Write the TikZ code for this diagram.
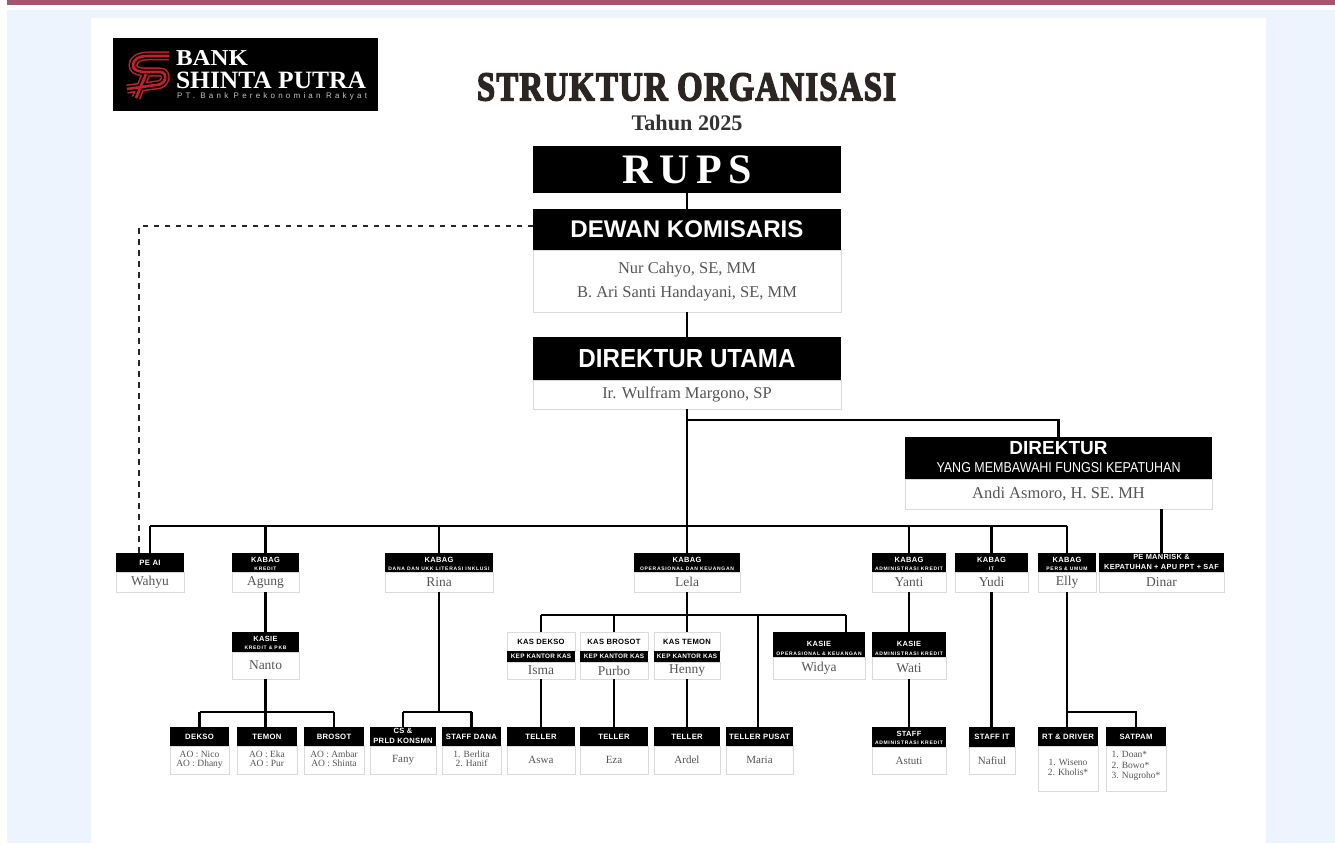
\documentclass[tikz,border=0pt]{standalone}
\usepackage{fontspec}
\usepackage{graphicx}
\setmainfont{Liberation Serif}
\setsansfont{Liberation Sans}
\newfontfamily\hdfont[LetterSpace=4]{Liberation Sans}
\newfontfamily\subfont[LetterSpace=14]{Liberation Sans}
\newfontfamily\logofont[LetterSpace=40]{Liberation Sans}
\newfontfamily\stencilfont[FakeBold=4,LetterSpace=4]{Liberation Serif Bold}
\definecolor{rosebar}{HTML}{A4566F}
\definecolor{pageblue}{HTML}{EDF4FE}
\definecolor{bodytxt}{HTML}{555555}
\definecolor{edgegray}{HTML}{DADADA}
\definecolor{logored}{HTML}{C4202B}
\definecolor{titleink}{HTML}{2B2624}
\tikzset{
  hdbox/.style={fill=black,text=white,inner sep=0pt,outer sep=0pt,align=center,font=\sffamily\bfseries},
  bdbox/.style={fill=white,draw=edgegray,line width=0.9pt,text=bodytxt,inner sep=0pt,outer sep=0pt,align=center,font=\rmfamily},
  plainbox/.style={fill=white,draw=edgegray,line width=0.9pt,text=black,inner sep=0pt,outer sep=0pt,align=center,font=\sffamily\bfseries},
  conn/.style={draw=black,line width=2.8pt},
  thinconn/.style={draw=black,line width=2.2pt},
  dashconn/.style={draw=black!85,line width=2.4pt,dash pattern=on 5.5pt off 5.5pt},
  plaintext/.style={inner sep=0pt,outer sep=0pt,align=center}
}
% name, x1, y1, ymid, x2, y2, header, body
\newcommand\orgbox[8]{%
  \pgfmathsetmacro\bxw{#5-#2}%
  \pgfmathsetmacro\bxc{(#5+#2)/2}%
  \pgfmathsetmacro\hdh{#4-#3}%
  \pgfmathsetmacro\hdc{(#4+#3)/2}%
  \pgfmathsetmacro\bdh{#6-#4}%
  \pgfmathsetmacro\bdc{(#6+#4)/2}%
  \node[bdbox,minimum width=\bxw pt,minimum height=\bdh pt] (#1-b) at (\bxc,\bdc) {#8};%
  \node[hdbox,minimum width=\bxw pt,minimum height=\hdh pt] (#1-h) at (\bxc,\hdc) {#7};%
}
% name, x1, x2, title, person
\newcommand\kasbox[5]{%
  \pgfmathsetmacro\bxw{#3-#2}%
  \pgfmathsetmacro\bxc{(#3+#2)/2}%
  \node[plainbox,minimum width=\bxw pt,minimum height=19pt] (#1-t) at (\bxc,641.5) {\hdfont\fontsize{7.6}{8}\selectfont\bfseries #4};%
  \node[bdbox,minimum width=\bxw pt,minimum height=17pt] (#1-b) at (\bxc,670.5) {\nmL #5};%
  \node[hdbox,minimum width=\bxw pt,minimum height=11pt] (#1-s) at (\bxc,656.5) {\hdfont\fontsize{6.4}{7}\selectfont\bfseries KEP KANTOR KAS};%
}
% size, baseline, column type, lines
\newcommand\stk[4]{{\fontsize{#1}{#2}\selectfont\begin{tabular}{@{}#3@{}}#4\end{tabular}}}
\newcommand\hdA[1]{\hdfont\fontsize{7.7}{8.5}\selectfont\bfseries #1}
\newcommand\hdB[2]{\raisebox{-4pt}[0pt][0pt]{\hdfont\bfseries\stk{7.5}{7.6}{c}{#1\\\subfont\bfseries\fontsize{5}{5}\selectfont #2}}}
\newcommand\hdBtall[2]{\raisebox{-6.5pt}[0pt][0pt]{\hdfont\bfseries\stk{7.5}{8.4}{c}{#1\\\subfont\bfseries\fontsize{5}{5}\selectfont #2}}}
\newcommand\hdTwo[3]{\hdfont\bfseries\stk{#1}{9.6}{c}{#2\\#3}}
\newcommand\nmL{\fontsize{13.5}{15}\selectfont}
\newcommand\nmM{\fontsize{11}{12}\selectfont}
\newcommand\nmTwo[2]{\stk{9.5}{9.6}{c}{#1\\#2}}
\newcommand\nmBig{\fontsize{16.5}{18}\selectfont}
\begin{document}
\begin{tikzpicture}[x=1pt,y=-1pt]
\useasboundingbox (0,0) rectangle (1335,843);
\fill[white] (0,0) rectangle (1335,843);
\fill[rosebar] (7,0) rectangle (1335,5);
\fill[pageblue] (7,10) rectangle (1335,843);
\fill[white] (91,18) rectangle (1266,843);
% logo
\fill[black] (113,38) rectangle (378,111);
\foreach \lw/\lc in {9/logored,6/black,2.6/logored}{
  \draw[line width=\lw pt,draw=\lc] (169,56) -- (148,56) .. controls (138,56) and (133,60) .. (133,65) .. controls (133,70) and (137,71) .. (143,72) -- (160,72) .. controls (168,72) and (167,85) .. (156,85) -- (127,89);
  \draw[line width=\lw pt,draw=\lc] (146,74) -- (136,98);
}
\node[plaintext,anchor=south west,text=white] (logoa) at (176,66) {\resizebox{72pt}{15pt}{\bfseries BANK}};
\node[plaintext,anchor=south west,text=white] (logob) at (176,88.5) {\resizebox{190pt}{16.5pt}{\bfseries SHINTA PUTRA}};
\node[plaintext,anchor=south west,text=black!22] (logoc) at (177,100) {\resizebox{190pt}{!}{\logofont PT. Bank Perekonomian Rakyat}};
% title
\node[plaintext,text=titleink] (title) at (686.5,87) {\resizebox{419pt}{27pt}{\stencilfont STRUKTUR ORGANISASI}};
\node[plaintext,text=black!80] (year) at (687,123) {\resizebox{111pt}{!}{\bfseries Tahun 2025}};
% upper boxes
\node[hdbox,minimum width=308pt,minimum height=47pt,font=\rmfamily\bfseries] (rups) at (687,169.5) {\fontsize{42}{44}\selectfont R\kern.16em U\kern.16em P\kern.16em S};
\orgbox{dewan}{533}{209}{250}{841}{312}{\resizebox{233pt}{!}{DEWAN KOMISARIS}}{\stk{16.5}{24}{c}{Nur Cahyo, SE, MM\\B. Ari Santi Handayani, SE, MM}}
\orgbox{dirut}{533}{337}{380}{841}{409}{\resizebox{217pt}{18pt}{DIREKTUR UTAMA}}{\nmBig Ir. Wulfram Margono, SP}
\orgbox{dirk}{905}{437}{479}{1212}{509}{\raisebox{-6pt}[0pt][0pt]{\stk{19}{18}{c}{DIREKTUR\\\mdseries\resizebox{244pt}{10pt}{YANG MEMBAWAHI FUNGSI KEPATUHAN}}}}{\nmBig Andi Asmoro, H. SE. MH}
% row 1
\orgbox{peai}{116}{553}{572}{184}{592}{\hdA{PE AI}}{\nmL Wahyu}
\orgbox{agung}{232}{553}{572}{299}{592}{\hdB{KABAG}{KREDIT}}{\nmL Agung}
\orgbox{rina}{385}{553}{572}{493}{592}{\hdB{KABAG}{DANA DAN UKK LITERASI INKLUSI}}{\nmL Rina}
\orgbox{lela}{634}{553}{572}{740}{592}{\hdB{KABAG}{OPERASIONAL DAN KEUANGAN}}{\nmL Lela}
\orgbox{yanti}{872}{553}{572}{946}{592}{\hdB{KABAG}{ADMINISTRASI KREDIT}}{\nmL Yanti}
\orgbox{yudi}{955}{553}{572}{1028}{592}{\hdB{KABAG}{IT}}{\nmL Yudi}
\orgbox{elly}{1038}{553}{572}{1096}{592}{\hdB{KABAG}{PERS \& UMUM}}{\nmL Elly}
\orgbox{dinar}{1099}{553}{572}{1224}{592}{\hdTwo{7.4}{PE MANRISK \&}{KEPATUHAN + APU PPT + SAF}}{\nmL Dinar}
% row 2
\orgbox{nanto}{232}{632}{652}{299}{679}{\hdB{KASIE}{KREDIT \& PKB}}{\nmL Nanto}
\kasbox{isma}{507}{575}{KAS DEKSO}{Isma}
\kasbox{purbo}{580}{648}{KAS BROSOT}{Purbo}
\kasbox{henny}{654}{720}{KAS TEMON}{Henny}
\orgbox{widya}{773}{632}{657}{865}{679}{\hdBtall{KASIE}{OPERASIONAL \& KEUANGAN}}{\nmL Widya}
\orgbox{wati}{872}{632}{657}{946}{679}{\hdBtall{KASIE}{ADMINISTRASI KREDIT}}{\nmL Wati}
% row 3
\orgbox{dekso}{170}{727}{746}{229}{774}{\hdA{DEKSO}}{\nmTwo{AO : Nico}{AO : Dhany}}
\orgbox{temon}{237}{727}{746}{297}{774}{\hdA{TEMON}}{\nmTwo{AO : Eka}{AO : Pur}}
\orgbox{brosot}{304}{727}{746}{364}{774}{\hdA{BROSOT}}{\nmTwo{AO : Ambar}{AO : Shinta}}
\orgbox{cs}{370}{727}{746}{436}{774}{\hdTwo{7.6}{CS \&}{PRLD KONSMN}}{\nmM Fany}
\orgbox{staffdana}{442}{727}{746}{501}{774}{\hdA{STAFF DANA}}{\nmTwo{1. Berlita}{2. Hanif}}
\orgbox{aswa}{507}{727}{746}{575}{774}{\hdA{TELLER}}{\nmM Aswa}
\orgbox{eza}{580}{727}{746}{648}{774}{\hdA{TELLER}}{\nmM Eza}
\orgbox{ardel}{654}{727}{746}{720}{774}{\hdA{TELLER}}{\nmM Ardel}
\orgbox{maria}{726}{727}{746}{793}{774}{\hdA{TELLER PUSAT}}{\nmM Maria}
\orgbox{astuti}{872}{727}{747}{946}{774}{\hdB{STAFF}{ADMINISTRASI KREDIT}}{\nmM Astuti}
\orgbox{nafiul}{969}{727}{747}{1015}{774}{\hdA{STAFF IT}}{\nmM Nafiul}
\orgbox{rt}{1038}{727}{746}{1098}{791}{\hdA{RT \& DRIVER}}{\nmTwo{1. Wiseno}{2. Kholis*}}
\orgbox{satpam}{1106}{727}{746}{1166}{791}{\hdA{SATPAM}}{\raisebox{0pt}[0pt][0pt]{\stk{9.5}{10.6}{l}{1. Doan*\\2. Bowo*\\3. Nugroho*}}}
% junctions
\coordinate (jdir) at (687,420);
\coordinate (jbus) at (687,526);
\coordinate (jnanto) at (266,712);
\coordinate (jrina) at (439,712);
\coordinate (jlela) at (687,615);
\coordinate (jwidya) at (846,615);
\coordinate (jpusat) at (758,615);
\coordinate (jelly) at (1067,712);
\coordinate (jdash) at (139,226);
% connectors
\draw[thinconn] (rups.south) -- (dewan-h.north);
\draw[thinconn] (dewan-b.south) -- (dirut-h.north);
\draw[thinconn] (dirut-b.south) -- (jbus);
\draw[thinconn] (jdir) -| (dirk-h.north);
\draw[thinconn] (dinar-h.north) -- (dinar-h.north |- dirk-b.south);
\draw[dashconn] (dewan-h.west |- jdash) -- (jdash) -- (jdash |- peai-h.north);
\draw[conn] (peai-h.north |- jbus) -- (elly-h.north |- jbus);
\foreach \n in {peai,agung,rina,lela,yanti,yudi,elly}{
  \draw[conn] (\n-h.north |- jbus) -- (\n-h.north);
}
\draw[conn] (agung-b.south) -- (nanto-h.north);
\draw[conn] (nanto-b.south) -- (nanto-b.south |- temon-h.north);
\draw[conn] (dekso-h.north |- jnanto) -- (brosot-h.north |- jnanto);
\draw[conn] (dekso-h.north |- jnanto) -- (dekso-h.north);
\draw[conn] (brosot-h.north |- jnanto) -- (brosot-h.north);
\draw[conn] (rina-b.south) -- (jrina);
\draw[conn] (cs-h.north |- jrina) -- (staffdana-h.north |- jrina);
\draw[conn] (cs-h.north |- jrina) -- (cs-h.north);
\draw[conn] (staffdana-h.north |- jrina) -- (staffdana-h.north);
\draw[conn] (lela-b.south) -- (jlela);
\draw[conn] (isma-t.north |- jlela) -- (jwidya);
\draw[conn] (jwidya) -- (jwidya |- widya-h.north);
\draw[conn] (jpusat) -- (jpusat |- maria-h.north);
\foreach \n/\m in {isma/aswa,purbo/eza,henny/ardel}{
  \draw[conn] (\n-t.north |- jlela) -- (\n-t.north);
  \draw[conn] (\n-b.south) -- (\m-h.north);
}
\draw[conn] (yanti-b.south) -- (wati-h.north);
\draw[conn] (wati-b.south) -- (astuti-h.north);
\draw[conn] (yudi-b.south) -- (yudi-b.south |- nafiul-h.north);
\draw[conn] (elly-b.south) -- (elly-b.south |- rt-h.north);
\draw[conn] (jelly) -- (satpam-h.north |- jelly) -- (satpam-h.north);
\end{tikzpicture}
\end{document}
